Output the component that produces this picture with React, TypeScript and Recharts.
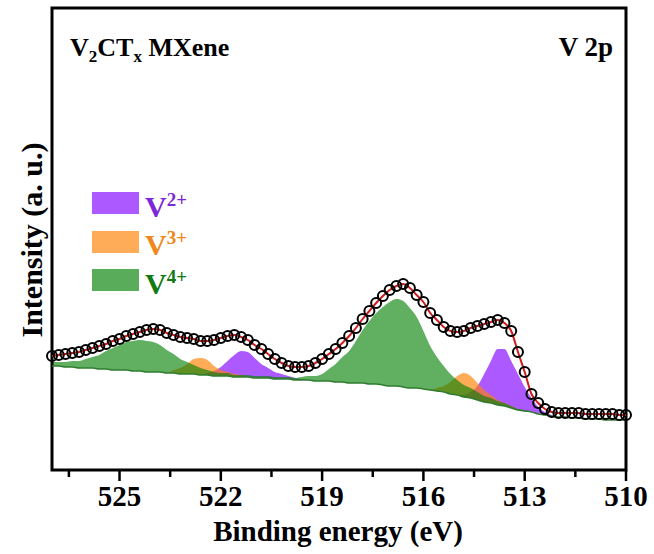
import React from 'react';
import { ComposedChart, Area, Line, XAxis, YAxis, ReferenceArea, Legend } from 'recharts';

// binding energy grid (eV), 0.2 eV steps, high -> low
const energy = [
    527.0, 526.8, 526.6, 526.4, 526.2, 526.0, 525.8, 525.6, 525.4, 525.2,
    525.0, 524.8, 524.6, 524.4, 524.2, 524.0, 523.8, 523.6, 523.4, 523.2,
    523.0, 522.8, 522.6, 522.4, 522.2, 522.0, 521.8, 521.6, 521.4, 521.2,
    521.0, 520.8, 520.6, 520.4, 520.2, 520.0, 519.8, 519.6, 519.4, 519.2,
    519.0, 518.8, 518.6, 518.4, 518.2, 518.0, 517.8, 517.6, 517.4, 517.2,
    517.0, 516.8, 516.6, 516.4, 516.2, 516.0, 515.8, 515.6, 515.4, 515.2,
    515.0, 514.8, 514.6, 514.4, 514.2, 514.0, 513.8, 513.6, 513.4, 513.2,
    513.0, 512.8, 512.6, 512.4, 512.2, 512.0, 511.8, 511.6, 511.4, 511.2,
    511.0, 510.8, 510.6, 510.4, 510.2, 510.0,
];

// measured counts (a.u.)
const measured = [
    114, 115, 116, 117, 118, 120, 122, 124, 126, 129,
    131, 134, 136, 138, 140, 141, 140, 137, 135, 133,
    132, 131, 129, 129, 130, 132, 134, 135, 133, 130,
    125, 121, 116, 111, 107, 104, 103, 103, 104, 107,
    111, 116, 121, 127, 134, 142, 151, 159, 167, 174,
    180, 184, 186, 182, 175, 168, 157, 150, 143, 139,
    138, 139, 142, 144, 146, 148, 150, 147, 139, 118,
    98, 76, 67, 61, 58, 57, 57, 57, 57, 56,
    56, 56, 56, 56, 55, 55,
];

// Shirley background
const background = [
    104, 104, 103, 103, 102, 102, 102, 101, 101, 100,
    100, 100, 99, 99, 98, 98, 98, 97, 97, 96,
    96, 96, 95, 95, 94, 94, 94, 93, 93, 93,
    92, 92, 92, 91, 91, 91, 90, 90, 90, 89,
    89, 89, 88, 88, 87, 87, 87, 86, 86, 85,
    84, 84, 83, 82, 82, 81, 80, 79, 78, 76,
    75, 73, 72, 70, 68, 67, 65, 64, 62, 60,
    59, 58, 56, 55, 54, 53, 53, 52, 52, 51,
    51, 51, 50, 50, 50, 50,
];

// fitted components, height above background
const v4Height = [
    4, 4, 5, 6, 7, 9, 11, 14, 18, 22,
    25, 28, 30, 31, 31, 30, 27, 23, 19, 15,
    12, 9, 7, 5, 4, 3, 3, 2, 2, 2,
    2, 2, 2, 2, 2, 2, 2, 3, 4, 5,
    7, 12, 18, 25, 32, 42, 53, 63, 71, 78,
    84, 87, 86, 80, 71, 58, 44, 34, 26, 20,
    15, 12, 10, 8, 6, 5, 4, 3, 2, 1,
    1, 0, 0, 0, 0, 0, 0, 0, 0, 0,
    0, 0, 0, 0, 0, 0,
];

const v3Height = [
    0, 0, 0, 0, 0, 0, 0, 0, 0, 0,
    0, 0, 0, 0, 0, 0, 0, 0, 3, 6,
    10, 15, 17, 15, 10, 6, 4, 3, 2, 1,
    0, 0, 0, 0, 0, 0, 0, 0, 0, 0,
    0, 0, 0, 0, 0, 0, 0, 0, 0, 0,
    0, 0, 0, 0, 0, 0, 0, 3, 6, 12,
    19, 24, 22, 17, 12, 8, 5, 3, 2, 1,
    0, 0, 0, 0, 0, 0, 0, 0, 0, 0,
    0, 0, 0, 0, 0, 0,
];

const v2Height = [
    0, 0, 0, 0, 0, 0, 0, 0, 0, 0,
    0, 0, 0, 0, 0, 0, 0, 0, 0, 0,
    0, 0, 0, 2, 5, 9, 15, 22, 26, 25,
    20, 14, 10, 7, 5, 3, 2, 1, 0, 0,
    0, 0, 0, 0, 0, 0, 0, 0, 0, 0,
    0, 0, 0, 0, 0, 0, 0, 0, 0, 0,
    0, 2, 6, 14, 28, 42, 56, 57, 47, 36,
    24, 14, 7, 3, 1, 0, 0, 0, 0, 0,
    0, 0, 0, 0, 0, 0,
];

const majorTicks = [525, 522, 519, 516, 513, 510];
const minorTicks = [526.5, 523.5, 520.5, 517.5, 514.5, 511.5];

const legendItems = [
    { label: '2+', fill: '#8000ff', text: '#7d28d8' },
    { label: '3+', fill: '#ff8000', text: '#f0871a' },
    { label: '4+', fill: '#008000', text: '#137a13' },
];

const data = energy.map((e, i) => ({
    e,
    measured: measured[i],
    bg: background[i],
    v2: [background[i], background[i] + v2Height[i]],
    v3: [background[i], background[i] + v3Height[i]],
    v4: [background[i], background[i] + v4Height[i]],
}));

const FONT = "'Liberation Serif', 'Times New Roman', serif";
const AXIS_Y = 470;

const EnergyTick = (props: any) => {
    const { x, payload } = props;
    const major = majorTicks.includes(payload.value);
    return (
        <g>
            <line x1={x} x2={x} y1={AXIS_Y} y2={AXIS_Y + (major ? 11 : 7)} stroke="#000" strokeWidth={2.5} />
            {major && (
                <text x={x} y={506} textAnchor="middle" fontFamily={FONT} fontWeight="bold" fontSize={29} fill="#000">
                    {payload.value}
                </text>
            )}
        </g>
    );
};

const LegendBox = () => (
    <div style={{ fontFamily: FONT, fontWeight: 'bold' }}>
        {legendItems.map((it) => (
            <div key={it.label} style={{ display: 'flex', alignItems: 'center', height: 22, marginBottom: 16.5 }}>
                <div style={{ width: 47, height: 22, background: it.fill, opacity: 0.65 }} />
                <span style={{ marginLeft: 6, fontSize: 30, lineHeight: '22px', color: it.text }}>
                    V<sup style={{ fontSize: 19 }}>{it.label}</sup>
                </span>
            </div>
        ))}
    </div>
);

const App: React.FC = () => {
    return (
        <div style={{ position: 'absolute', left: 0, top: 0 }}>
            <ComposedChart width={654} height={554} data={data} margin={{ top: 8, right: 28, bottom: 0, left: 52 }}>
                <XAxis
                    dataKey="e"
                    type="number"
                    domain={[510, 527]}
                    reversed
                    ticks={[...minorTicks, ...majorTicks].sort((a, b) => b - a)}
                    interval={0}
                    axisLine={false}
                    tickLine={false}
                    tick={<EnergyTick />}
                    height={84}
                />
                <YAxis type="number" domain={[0, 462]} hide />
                <Area type="monotone" dataKey="v2" stroke="none" fill="#8000ff" fillOpacity={0.65} isAnimationActive={false} />
                <Area type="monotone" dataKey="v3" stroke="none" fill="#ff8000" fillOpacity={0.65} isAnimationActive={false} />
                <Area type="monotone" dataKey="v4" stroke="none" fill="#008000" fillOpacity={0.62} isAnimationActive={false} />
                <Line type="monotone" dataKey="bg" stroke="#2f7d2f" strokeWidth={1.5} dot={false} isAnimationActive={false} />
                <Line
                    type="monotone"
                    dataKey="measured"
                    stroke="#d01c1c"
                    strokeWidth={2}
                    dot={{ r: 5, fill: 'none', stroke: '#000', strokeWidth: 2 }}
                    isAnimationActive={false}
                />
                <ReferenceArea x1={527} x2={510} y1={0} y2={462} fill="none" stroke="#000" strokeWidth={3} ifOverflow="visible" />
                <Legend
                    layout="vertical"
                    align="center"
                    verticalAlign="middle"
                    wrapperStyle={{ left: 92, top: 192, width: 120 }}
                    content={() => <LegendBox />}
                />
                <text x={70} y={56} fontFamily={FONT} fontWeight="bold" fontSize={26} fill="#000">
                    V<tspan fontSize={17} dy={6}>2</tspan>
                    <tspan dy={-6}>CT</tspan>
                    <tspan fontSize={17} dy={6}>x</tspan>
                    <tspan dy={-6}> MXene</tspan>
                </text>
                <text x={613} y={56} textAnchor="end" fontFamily={FONT} fontWeight="bold" fontSize={27} fill="#000">
                    V 2p
                </text>
                <text x={338} y={541} textAnchor="middle" fontFamily={FONT} fontWeight="bold" fontSize={29} fill="#000">
                    Binding energy (eV)
                </text>
                <text
                    x={42}
                    y={240}
                    transform="rotate(-90 42 240)"
                    textAnchor="middle"
                    fontFamily={FONT}
                    fontWeight="bold"
                    fontSize={30}
                    fill="#000"
                >
                    Intensity (a. u.)
                </text>
            </ComposedChart>
        </div>
    );
};

export default App;
